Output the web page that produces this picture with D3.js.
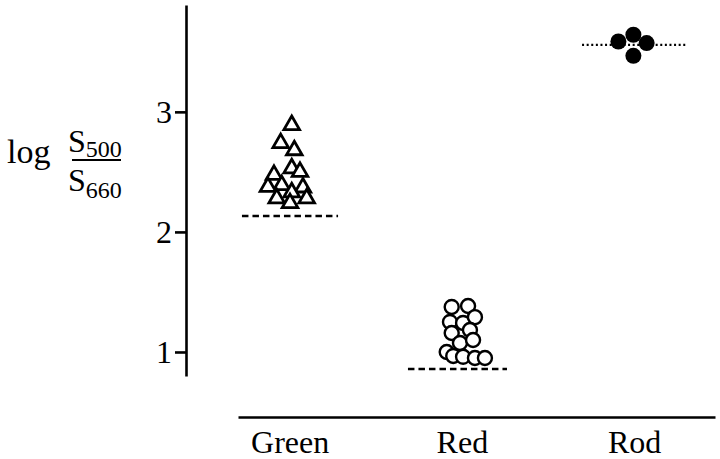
<!DOCTYPE html>
<html>
<head>
<meta charset="utf-8">
<script src="https://cdn.jsdelivr.net/npm/d3@7"></script>
<style>
  html, body { margin: 0; padding: 0; background: #fff; }
  svg { display: block; }
  text { font-family: "Liberation Serif", "DejaVu Serif", serif; fill: #000; }
</style>
</head>
<body>
<svg id="chart" width="720" height="459"></svg>
<script>
// ---- data ----
const categories = ["Green", "Red", "Rod"];
const categoryPos = [1, 2, 3];
const yTicks = [1, 2, 3];

// Green cones (open triangles): group position with spread, log S500/S660
const greenX = [1.012, 0.948, 1.027, 1.012, 1.060, 0.909, 0.954, 0.874, 1.077, 1.012, 0.925, 1.099, 1.002];
const greenY = [2.89, 2.74, 2.68, 2.53, 2.50, 2.475, 2.39, 2.375, 2.37, 2.33, 2.28, 2.28, 2.24];

// Red cones (open circles)
const redX = [1.941, 2.036, 1.931, 2.007, 2.076, 1.941, 2.047, 1.989, 2.065, 1.912, 1.950, 2.007, 2.076, 2.134];
const redY = [1.375, 1.383, 1.25, 1.242, 1.29, 1.158, 1.183, 1.075, 1.10, 1.00, 0.967, 0.96, 0.95, 0.95];

// Rods (filled circles)
const rodX = [2.909, 2.996, 3.073, 2.996];
const rodY = [3.586, 3.642, 3.573, 3.467];

// Reference levels: value, x from, x to
const refGroups = ["Green", "Red", "Rod"];
const refValue = [2.133, 0.858, 3.558];
const refFrom = [0.723, 1.687, 2.698];
const refTo = [1.281, 2.262, 3.302];

// ---- chart ----
const svg = d3.select("#chart");
const x = d3.scaleLinear().domain([0.7, 3.47]).range([238, 715]);
const y = d3.scaleLinear().domain([0.8, 3.89]).range([376, 5]);
const axisX = 186;
const FONT = "Liberation Serif, serif";

// Y axis
const gy = svg.append("g").attr("transform", `translate(${axisX},0)`)
  .call(d3.axisLeft(y).tickValues(yTicks).tickFormat(d3.format("d")).tickSize(11).tickSizeOuter(0).tickPadding(3));
gy.select(".domain").attr("stroke", "#000").attr("stroke-width", 2.6);
gy.selectAll(".tick line").attr("stroke", "#000").attr("stroke-width", 2.6);
gy.selectAll(".tick text").attr("font-family", FONT).attr("font-size", 32).attr("fill", "#000").attr("dy", "0.34em");

// X axis
const gx = svg.append("g").attr("transform", `translate(0,417)`)
  .call(d3.axisBottom(x).tickValues(categoryPos).tickFormat((d, i) => categories[i]).tickSize(0).tickSizeOuter(0));
gx.select(".domain").attr("stroke", "#000").attr("stroke-width", 2.6);
gx.selectAll(".tick text").attr("font-family", FONT).attr("font-size", 32)
  .attr("fill", "#000").attr("y", 36).attr("dy", 0);

// Reference lines
const refs = refGroups.map((g, i) => ({ g, v: refValue[i], a: refFrom[i], b: refTo[i] }));
svg.append("g").selectAll("line").data(refs).join("line")
  .attr("x1", d => x(d.a)).attr("x2", d => x(d.b))
  .attr("y1", d => y(d.v)).attr("y2", d => y(d.v))
  .attr("stroke", "#000")
  .attr("stroke-width", 2.4)
  .attr("stroke-dasharray", d => d.g === "Rod" ? "2,2.6" : "6.5,4");

// Green triangles
const tri = d3.symbol().type(d3.symbolTriangle).size(105);
const green = greenX.map((v, i) => ({ x: v, y: greenY[i] }));
svg.append("g").selectAll("path").data(green).join("path")
  .attr("d", tri)
  .attr("transform", d => `translate(${x(d.x)},${y(d.y)})`)
  .attr("fill", "#fff").attr("stroke", "#000").attr("stroke-width", 2.8).attr("stroke-linejoin", "miter");

// Red circles
const red = redX.map((v, i) => ({ x: v, y: redY[i] }));
svg.append("g").selectAll("circle").data(red).join("circle")
  .attr("cx", d => x(d.x)).attr("cy", d => y(d.y)).attr("r", 7)
  .attr("fill", "#fff").attr("stroke", "#000").attr("stroke-width", 2.4);

// Rod filled circles
const rod = rodX.map((v, i) => ({ x: v, y: rodY[i] }));
svg.append("g").selectAll("circle").data(rod).join("circle")
  .attr("cx", d => x(d.x)).attr("cy", d => y(d.y)).attr("r", 8)
  .attr("fill", "#000");

// Y-axis label: log S500 / S660
const lab = svg.append("g").attr("font-family", FONT);
lab.append("text").attr("x", 7).attr("y", 163).attr("font-size", 34).text("log");
const numText = lab.append("text").attr("x", 68).attr("y", 152).attr("font-size", 32);
numText.append("tspan").text("S");
numText.append("tspan").attr("font-size", 24).attr("dy", 5).text("500");
lab.append("line").attr("x1", 72).attr("x2", 121).attr("y1", 160).attr("y2", 160)
  .attr("stroke", "#000").attr("stroke-width", 2.2);
const denText = lab.append("text").attr("x", 68).attr("y", 191).attr("font-size", 32);
denText.append("tspan").text("S");
denText.append("tspan").attr("font-size", 24).attr("dy", 7).text("660");
</script>
</body>
</html>
